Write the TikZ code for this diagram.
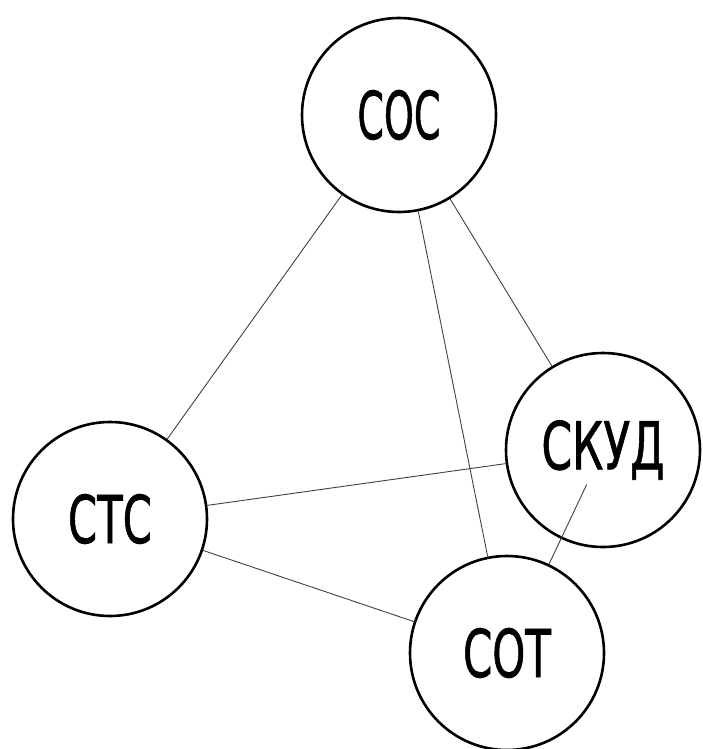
\documentclass[tikz,border=0pt]{standalone}
\usepackage{fontspec}
\newfontfamily\gostfont[FakeBold=1.2]{DejaVu Sans}
\usetikzlibrary{calc}
\newcommand{\sysl}[2]{\resizebox{#1}{49pt}{#2}}
\begin{document}
\begin{tikzpicture}[x=1pt,y=-1pt,
  sys/.style={circle,draw=black,line width=2.6pt,minimum size=194pt,inner sep=0pt,font=\gostfont},
  link/.style={line width=0.9pt,draw=black!75}]
\useasboundingbox (0,0) rectangle (702,749);
\node[sys] (soc) at (399,115) {\sysl{83pt}{СОС}};
\node[sys] (stc) at (110,519) {\sysl{84pt}{СТС}};
\node[sys] (skud) at (603,450) {\sysl{123pt}{СКУД}};
\node[sys] (cot) at (507,653) {\sysl{88pt}{СОТ}};
\coordinate (skudend) at ($(cot)!0.83!(skud)$);
\draw[link] (soc) -- (stc);
\draw[link] (soc) -- (skud);
\draw[link] (soc) -- (cot);
\draw[link] (stc) -- (skud);
\draw[link] (stc) -- (cot);
\draw[link] (cot) -- (skudend);
\end{tikzpicture}
\end{document}
